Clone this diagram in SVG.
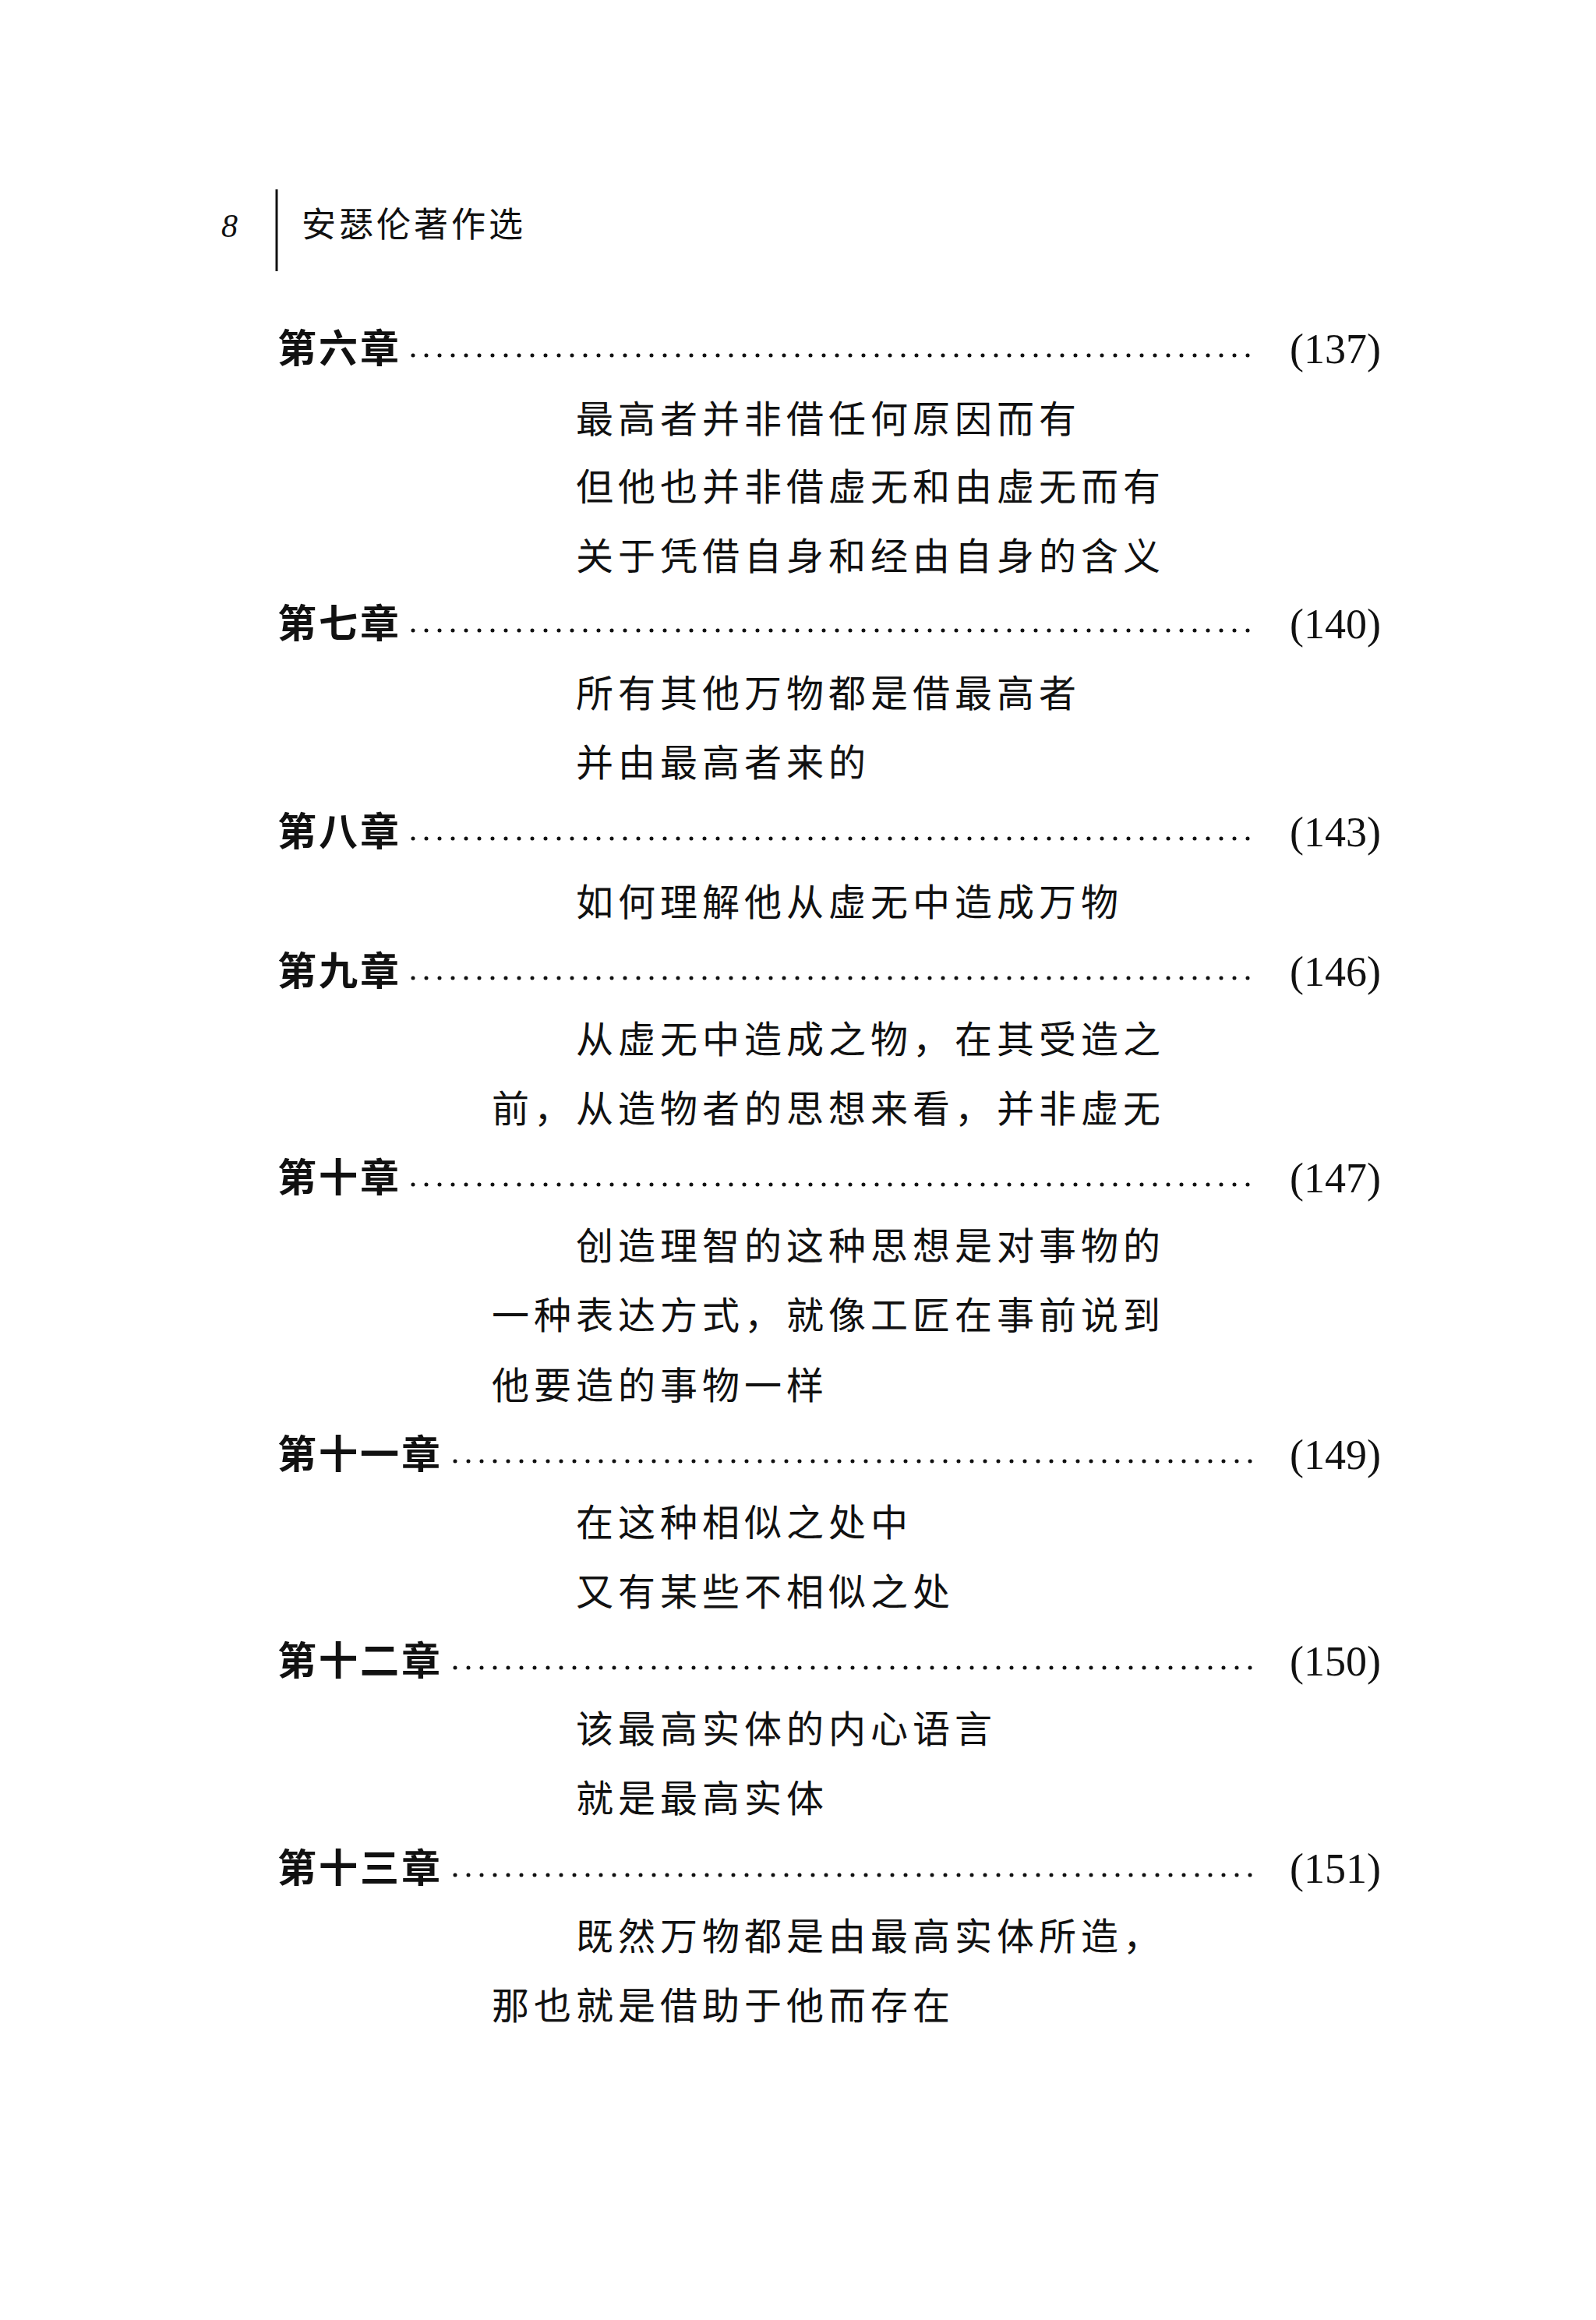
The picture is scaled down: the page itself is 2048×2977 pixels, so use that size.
<svg xmlns="http://www.w3.org/2000/svg" width="2048" height="2977" viewBox="0 0 2048 2977">
<style>
.h{font-family:"Noto Sans CJK SC",sans-serif;font-size:44px;letter-spacing:4px;fill:#111}
.c{font-family:"Noto Sans CJK SC",sans-serif;font-size:50px;font-weight:bold;letter-spacing:3px;fill:#111}
.s{font-family:"Noto Sans CJK SC",sans-serif;font-size:48px;letter-spacing:6px;fill:#111}
.p{font-family:"Liberation Serif",serif;font-size:54px;fill:#111;text-anchor:end}
.d{stroke:#111;stroke-width:5;stroke-linecap:round;stroke-dasharray:0 17}
</style>
<rect width="2048" height="2977" fill="#fff"/>
<g id="header">
<text x="284" y="304" font-family="Liberation Serif,serif" font-style="italic" font-size="42" fill="#111">8</text>
<line x1="355" y1="243" x2="355" y2="348" stroke="#111" stroke-width="3"/>
<text class="h" x="387" y="304">安瑟伦著作选</text>
</g>
<g id="connectors">
<line class="d" x1="530" y1="456" x2="1608" y2="456"/>
<line class="d" x1="530" y1="809" x2="1608" y2="809"/>
<line class="d" x1="530" y1="1076" x2="1608" y2="1076"/>
<line class="d" x1="530" y1="1255" x2="1608" y2="1255"/>
<line class="d" x1="530" y1="1520" x2="1608" y2="1520"/>
<line class="d" x1="584" y1="1875" x2="1608" y2="1875"/>
<line class="d" x1="584" y1="2140" x2="1608" y2="2140"/>
<line class="d" x1="584" y1="2406" x2="1608" y2="2406"/>
</g>
<g id="ch6"><text class="c" x="356" y="465">第六章</text><text class="p" x="1772" y="466">(137)</text>
<text class="s" x="739" y="555">最高者并非借任何原因而有</text>
<text class="s" x="739" y="642">但他也并非借虚无和由虚无而有</text>
<text class="s" x="739" y="731">关于凭借自身和经由自身的含义</text></g>
<g id="ch7"><text class="c" x="356" y="818">第七章</text><text class="p" x="1772" y="819">(140)</text>
<text class="s" x="739" y="907">所有其他万物都是借最高者</text>
<text class="s" x="739" y="996">并由最高者来的</text></g>
<g id="ch8"><text class="c" x="356" y="1085">第八章</text><text class="p" x="1772" y="1086">(143)</text>
<text class="s" x="739" y="1175">如何理解他从虚无中造成万物</text></g>
<g id="ch9"><text class="c" x="356" y="1264">第九章</text><text class="p" x="1772" y="1265">(146)</text>
<text class="s" x="739" y="1351">从虚无中造成之物，在其受造之</text>
<text class="s" x="631" y="1440">前，从造物者的思想来看，并非虚无</text></g>
<g id="ch10"><text class="c" x="356" y="1529">第十章</text><text class="p" x="1772" y="1530">(147)</text>
<text class="s" x="739" y="1616">创造理智的这种思想是对事物的</text>
<text class="s" x="631" y="1705">一种表达方式，就像工匠在事前说到</text>
<text class="s" x="631" y="1795">他要造的事物一样</text></g>
<g id="ch11"><text class="c" x="356" y="1884">第十一章</text><text class="p" x="1772" y="1885">(149)</text>
<text class="s" x="739" y="1971">在这种相似之处中</text>
<text class="s" x="739" y="2060">又有某些不相似之处</text></g>
<g id="ch12"><text class="c" x="356" y="2149">第十二章</text><text class="p" x="1772" y="2150">(150)</text>
<text class="s" x="739" y="2236">该最高实体的内心语言</text>
<text class="s" x="739" y="2325">就是最高实体</text></g>
<g id="ch13"><text class="c" x="356" y="2415">第十三章</text><text class="p" x="1772" y="2416">(151)</text>
<text class="s" x="739" y="2502">既然万物都是由最高实体所造，</text>
<text class="s" x="631" y="2591">那也就是借助于他而存在</text></g>
</svg>
